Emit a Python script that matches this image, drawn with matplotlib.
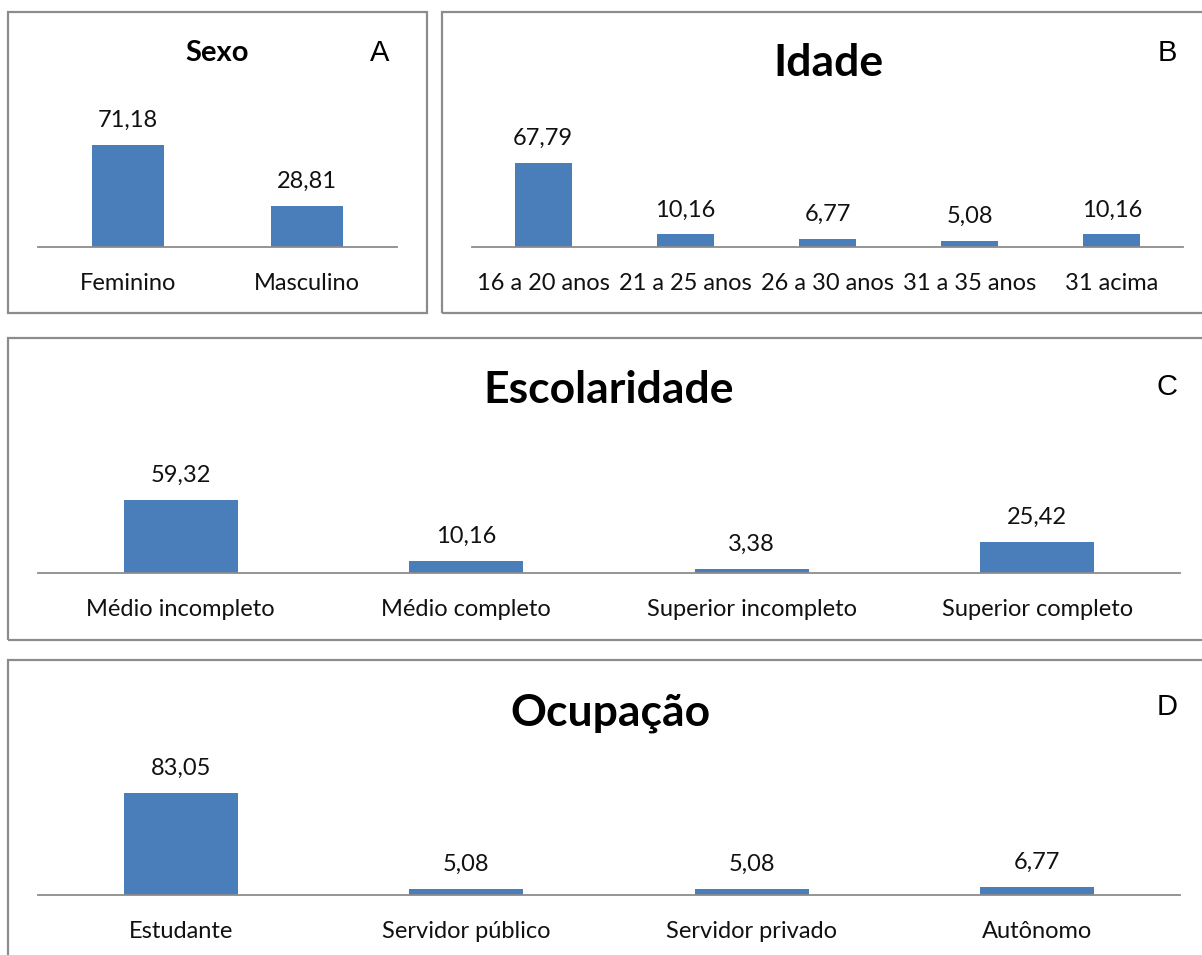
#!/usr/bin/env python3
"""Perfil dos participantes: sexo, idade, escolaridade e ocupação (%)."""

import matplotlib
matplotlib.use("Agg")
import matplotlib.pyplot as plt
from matplotlib.patches import Rectangle

# ---- dados ---------------------------------------------------------------
sexo_cats = ["Feminino", "Masculino"]
sexo_vals = [71.18, 28.81]

idade_cats = ["16 a 20 anos", "21 a 25 anos", "26 a 30 anos", "31 a 35 anos", "31 acima"]
idade_vals = [67.79, 10.16, 6.77, 5.08, 10.16]

escol_cats = ["Médio incompleto", "Médio completo", "Superior incompleto", "Superior completo"]
escol_vals = [59.32, 10.16, 3.38, 25.42]

ocup_cats = ["Estudante", "Servidor público", "Servidor privado", "Autônomo"]
ocup_vals = [83.05, 5.08, 5.08, 6.77]

# ---- estilo --------------------------------------------------------------
W, H = 1202, 955
BAR_COLOR = "#4a7ebb"
LINE_COLOR = "#8c8c8c"
FONT = ["Lato", "DejaVu Sans"]
plt.rcParams["font.family"] = FONT


def px_rect(x0, y0, x1, y1):
    return [x0 / W, 1 - y1 / H, (x1 - x0) / W, (y1 - y0) / H]


def fig_text(fig, x, y, s, **kw):
    fig.text(x / W, 1 - y / H, s, ha="center", va="center", **kw)


def draw_panel(fig, rect, cats, vals, ymax, label_size=17):
    ax = fig.add_axes(px_rect(*rect))
    pos = range(len(cats))
    ax.bar(pos, vals, width=0.4, color=BAR_COLOR, zorder=2)
    for p, v in zip(pos, vals):
        ax.annotate(f"{v:.2f}".replace(".", ","), (p, v), xytext=(0, 10),
                    textcoords="offset points", ha="center", va="bottom",
                    fontsize=17, color="#111111")
    ax.set_xlim(-0.5, len(cats) - 0.5)
    ax.set_ylim(0, ymax)
    ax.set_xticks(list(pos))
    ax.set_xticklabels(cats, fontsize=label_size, color="#111111")
    ax.tick_params(axis="x", length=0, pad=18.5)
    ax.set_yticks([])
    for side in ("top", "right", "left"):
        ax.spines[side].set_visible(False)
    ax.spines["bottom"].set_color(LINE_COLOR)
    ax.spines["bottom"].set_linewidth(1.3)
    ax.patch.set_alpha(0)
    return ax


fig = plt.figure(figsize=(W / 100, H / 100), dpi=100)

# molduras dos painéis
for x0, y0, x1, y1 in [(8, 12, 427, 313), (442, 12, 1215, 313),
                       (8, 338, 1215, 640), (8, 660, 1215, 975)]:
    fig.patches.append(Rectangle((x0 / W, 1 - y1 / H), (x1 - x0) / W, (y1 - y0) / H,
                                 transform=fig.transFigure, fill=False,
                                 edgecolor=LINE_COLOR, linewidth=1.6))

draw_panel(fig, (38, 104, 397, 247), sexo_cats, sexo_vals, 100)
draw_panel(fig, (472, 123, 1183, 247), idade_cats, idade_vals, 100)
draw_panel(fig, (38, 450, 1180, 573), escol_cats, escol_vals, 100)
draw_panel(fig, (38, 772, 1180, 895), ocup_cats, ocup_vals, 100)

# títulos
fig_text(fig, 217, 53, "Sexo", fontsize=21, fontweight="bold")
fig_text(fig, 828, 63, "Idade", fontsize=32, fontweight="bold")
fig_text(fig, 609, 390, "Escolaridade", fontsize=32, fontweight="bold")
fig_text(fig, 610, 713, "Ocupação", fontsize=32, fontweight="bold")

# letras dos painéis
for x, y, s in [(380, 53, "A"), (1167, 53, "B"), (1167, 387, "C"), (1167, 707, "D")]:
    fig_text(fig, x, y, s, fontsize=21, family="Liberation Sans")

fig.savefig("out.png", dpi=100, facecolor="white")
